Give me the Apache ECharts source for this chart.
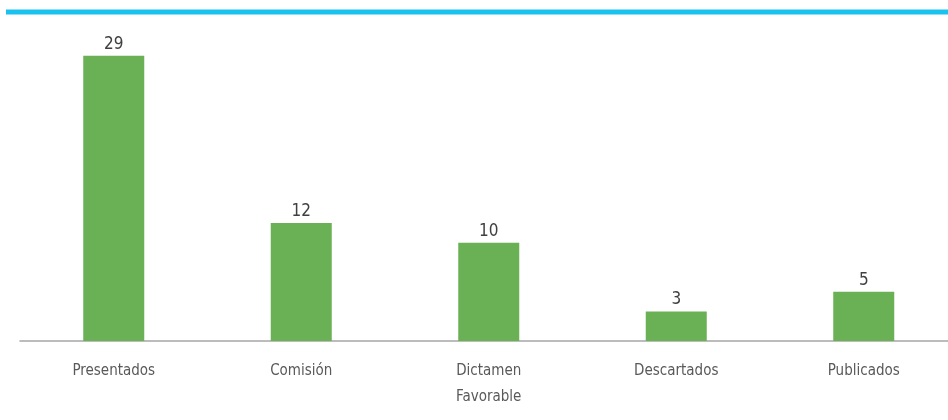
<!DOCTYPE html>
<html>
<head>
<meta charset="utf-8">
<style>
  html, body { margin: 0; padding: 0; background: #ffffff; }
  #chart { width: 948px; height: 420px; }
</style>
<script src="https://cdn.jsdelivr.net/npm/echarts@6/dist/echarts.min.js"></script>
</head>
<body>
<div id="chart"></div>
<script>
// Estado de los proyectos
const categories = ['Presentados', 'Comisión', 'Dictamen\nFavorable', 'Descartados', 'Publicados'];
const values = [29, 12, 10, 3, 5];

const FONT = '"Liberation Sans Narrow", "DejaVu Sans Condensed", sans-serif';

const chart = echarts.init(document.getElementById('chart'), null, { renderer: 'canvas' });
chart.setOption({
  animation: false,
  backgroundColor: '#ffffff',
  // the plot runs slightly past the right edge of the canvas
  grid: { left: 20, width: 937.5, top: 44, bottom: 79, outerBoundsMode: 'none', containLabel: false },
  graphic: [{
    type: 'line',
    shape: { x1: 6, y1: 12, x2: 948, y2: 12 },
    style: { stroke: '#19c2ef', lineWidth: 5 }
  }],
  xAxis: {
    type: 'category',
    data: categories,
    axisLine: { lineStyle: { color: '#a6a6a6', width: 1.5 } },
    axisTick: { show: false },
    axisLabel: {
      color: '#595959',
      fontFamily: FONT,
      fontSize: 15,
      lineHeight: 26,
      margin: 17
    }
  },
  yAxis: {
    type: 'value',
    min: 0,
    max: 30.2,
    show: false,
    splitLine: { show: false }
  },
  series: [{
    type: 'bar',
    data: values,
    barWidth: 61,
    itemStyle: { color: '#6ab155' },
    label: {
      show: true,
      position: 'top',
      distance: 3,
      color: '#404040',
      fontFamily: FONT,
      fontSize: 17
    }
  }]
});
</script>
</body>
</html>
